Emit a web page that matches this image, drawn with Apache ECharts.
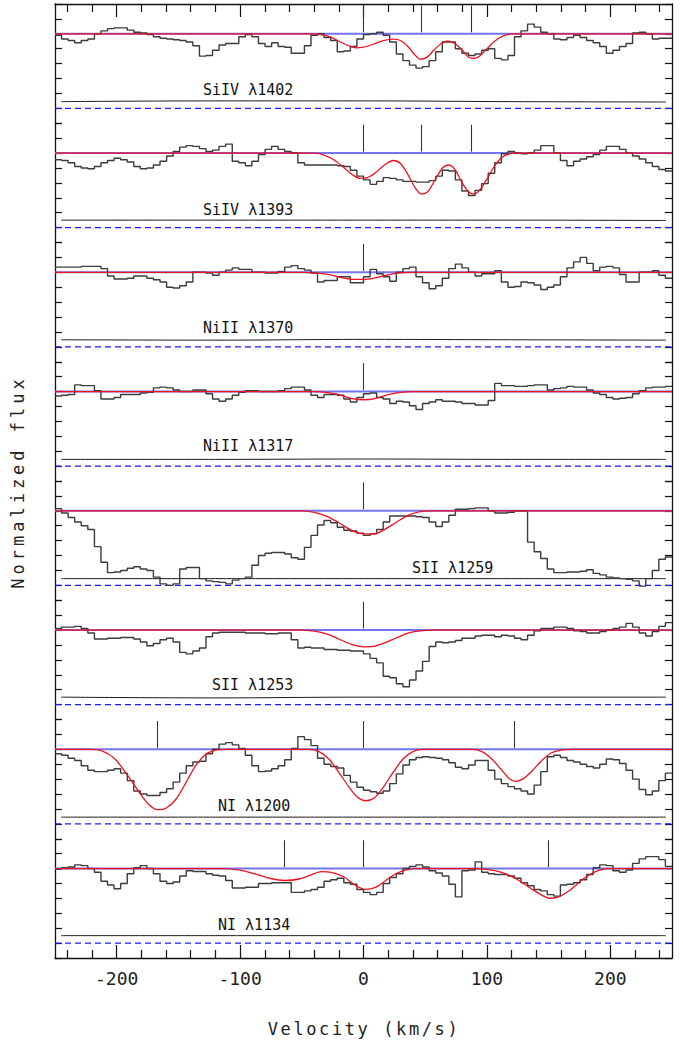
<!DOCTYPE html>
<html><head><meta charset="utf-8">
<script src="https://cdn.jsdelivr.net/npm/echarts@6/dist/echarts.min.js"></script>
<style>html,body{margin:0;padding:0;background:#fff}#c{width:683px;height:1044px}</style>
</head><body><div id="c"></div>
<script>
// ---------- data ----------
const VELOCITY = [-247.3,-242.0,-236.7,-231.4,-226.1,-220.7,-215.4,-210.1,-204.8,-199.5,-194.1,-188.8,-183.5,-178.2,-172.9,-167.6,-162.2,-156.9,-151.6,-146.3,-141.0,-135.6,-130.3,-125.0,-119.7,-114.4,-109.0,-103.7,-98.4,-93.1,-87.8,-82.4,-77.1,-71.8,-66.5,-61.2,-55.9,-50.5,-45.2,-39.9,-34.6,-29.3,-23.9,-18.6,-13.3,-8.0,-2.7,2.7,8.0,13.3,18.6,23.9,29.3,34.6,39.9,45.2,50.5,55.9,61.2,66.5,71.8,77.1,82.4,87.8,93.1,98.4,103.7,109.0,114.4,119.7,125.0,130.3,135.6,141.0,146.3,151.6,156.9,162.2,167.6,172.9,178.2,183.5,188.8,194.1,199.5,204.8,210.1,215.4,220.7,226.1,231.4,236.7,242.0,247.3];

const LINE_LABELS = ['SiIV λ1402','SiIV λ1393','NiII λ1370','NiII λ1317','SII λ1259','SII λ1253','NI λ1200','NI λ1134'];

const FLUX_SIIV_1402 = [0.98,0.93,0.91,0.88,0.91,0.93,1.0,1.04,1.07,1.08,
 1.08,1.05,1.02,1.01,0.99,0.96,0.94,0.93,0.92,0.91,
 0.89,0.84,0.70,0.71,0.78,0.85,0.87,0.87,0.96,0.99,
 0.96,0.87,0.83,0.88,0.83,0.82,0.74,0.74,0.84,0.98,
 1.0,0.95,0.91,0.76,0.77,0.83,0.93,0.99,1.0,1.02,
 0.98,0.89,0.73,0.64,0.58,0.54,0.56,0.64,0.76,0.89,
 0.89,0.80,0.74,0.71,0.73,0.78,0.80,0.67,0.65,0.71,
 0.96,1.04,1.13,1.09,1.02,1.0,0.93,0.92,0.95,0.98,
 0.95,0.91,0.88,0.83,0.74,0.78,0.83,0.87,1.01,1.02,
 1.0,0.93,0.94,0.94];
const FLUX_SIIV_1393 = [0.91,0.90,0.87,0.82,0.80,0.79,0.82,0.87,0.90,0.93,
 0.91,0.88,0.82,0.79,0.80,0.84,0.89,0.96,1.02,1.08,
 1.10,1.09,1.06,1.02,1.04,1.09,1.12,0.89,0.87,0.83,
 0.89,0.98,1.05,1.09,1.05,1.02,1.0,0.87,0.84,0.84,
 0.84,0.84,0.84,0.83,0.82,0.77,0.69,0.64,0.58,0.62,
 0.67,0.66,0.64,0.62,0.62,0.61,0.61,0.63,0.69,0.77,
 0.76,0.64,0.49,0.43,0.50,0.59,0.73,0.87,0.99,1.02,
 1.0,0.99,1.0,1.04,1.10,1.10,1.0,0.90,0.83,0.89,
 0.92,0.95,0.98,1.04,1.09,1.09,1.05,1.0,0.96,0.92,
 0.87,0.82,0.78,0.76];
const FLUX_NIII_1370 = [1.07,1.07,1.07,1.07,1.08,1.08,1.08,1.05,0.95,0.91,
 0.91,0.92,0.95,0.95,0.92,0.90,0.87,0.80,0.79,0.82,
 0.87,1.0,1.0,0.99,0.96,1.0,1.03,1.06,1.04,1.04,
 1.0,1.0,0.99,0.99,1.01,1.07,1.09,1.05,1.03,0.99,
 0.87,0.89,0.89,0.94,0.94,0.86,0.86,0.94,1.04,0.98,
 0.94,0.88,1.0,1.05,1.07,0.94,0.86,0.78,0.82,0.92,
 1.05,1.11,1.06,1.0,0.95,0.98,0.98,1.02,0.87,0.80,
 0.81,0.87,0.86,0.83,0.77,0.80,0.83,0.94,1.06,1.14,
 1.20,1.12,1.02,1.07,1.08,1.06,0.97,0.87,0.87,1.0,
 1.0,1.02,0.96,0.92];
const FLUX_NIII_1317 = [0.94,0.95,0.96,1.09,1.08,1.08,1.01,0.90,0.90,0.92,
 0.96,0.96,0.96,0.98,0.99,1.05,1.06,1.05,1.02,1.0,
 1.0,1.02,1.02,0.97,0.90,0.87,0.90,0.95,0.99,1.01,
 1.01,1.0,1.0,1.0,1.01,1.04,1.06,1.06,1.02,0.95,
 0.92,0.96,0.96,0.95,0.90,0.86,0.92,0.97,0.98,0.92,
 0.90,0.84,0.87,0.86,0.81,0.76,0.84,0.86,0.89,0.87,
 0.87,0.86,0.84,0.84,0.82,0.82,0.88,1.11,1.08,1.08,
 1.07,1.07,1.08,1.09,1.09,1.02,1.04,1.05,1.07,1.06,
 1.06,1.02,0.98,0.96,0.92,0.90,0.91,0.92,0.97,1.01,
 1.05,1.06,1.06,1.07];
const FLUX_SII_1259 = [1.03,0.97,0.91,0.85,0.80,0.75,0.52,0.31,0.17,0.18,
 0.20,0.23,0.25,0.22,0.20,0.11,0.02,0.0,0.02,0.22,
 0.24,0.24,0.09,0.06,0.05,0.04,0.02,0.07,0.09,0.11,
 0.27,0.40,0.43,0.44,0.44,0.42,0.37,0.35,0.51,0.67,
 0.81,0.87,0.84,0.78,0.74,0.73,0.70,0.67,0.69,0.75,
 0.85,0.93,0.93,0.93,0.93,0.92,0.91,0.85,0.79,0.85,
 0.94,1.02,1.02,1.03,1.04,1.04,1.0,0.97,0.97,0.98,
 1.0,1.0,0.58,0.45,0.36,0.22,0.17,0.17,0.18,0.18,
 0.19,0.21,0.16,0.14,0.11,0.10,0.09,0.08,0.06,-0.01,
 0.09,0.20,0.35,0.38];
const FLUX_SII_1253 = [1.02,1.04,1.04,1.05,1.02,0.96,0.88,0.88,0.89,0.89,
 0.90,0.90,0.88,0.84,0.79,0.82,0.87,0.89,0.84,0.70,
 0.68,0.72,0.76,0.91,0.96,0.97,0.97,0.97,0.97,0.96,
 0.96,0.96,0.95,0.95,0.96,0.96,0.87,0.76,0.77,0.76,
 0.76,0.74,0.74,0.73,0.73,0.72,0.72,0.68,0.62,0.56,
 0.38,0.36,0.28,0.24,0.33,0.45,0.58,0.78,0.84,0.83,
 0.84,0.86,0.89,0.89,0.92,0.93,0.93,0.91,0.93,0.92,
 0.89,0.87,0.93,0.99,1.02,1.02,1.04,1.04,1.02,0.99,
 0.98,0.96,0.96,0.98,1.0,1.02,1.04,1.09,1.04,0.96,
 0.92,0.98,1.05,1.10];
const FLUX_NI_1200 = [0.94,0.92,0.88,0.85,0.78,0.72,0.70,0.70,0.72,0.74,
 0.68,0.58,0.44,0.40,0.38,0.38,0.42,0.47,0.56,0.68,
 0.78,0.83,0.84,0.94,1.0,1.07,1.09,1.06,1.01,0.92,
 0.78,0.70,0.71,0.74,0.78,0.86,1.01,1.17,1.13,1.05,
 0.88,0.80,0.77,0.75,0.65,0.56,0.49,0.45,0.43,0.41,
 0.44,0.54,0.67,0.79,0.86,0.89,0.90,0.89,0.88,0.86,
 0.82,0.76,0.74,0.79,0.85,0.85,0.72,0.60,0.54,0.50,
 0.47,0.44,0.40,0.52,0.70,0.90,0.92,0.89,0.85,0.83,
 0.80,0.77,0.75,0.80,0.87,0.86,0.81,0.72,0.60,0.46,
 0.39,0.44,0.58,0.68];
const FLUX_NI_1134 = [0.99,1.01,1.02,1.05,1.04,1.0,0.95,0.83,0.78,0.73,
 0.80,0.93,1.01,1.04,1.0,0.93,0.83,0.80,0.82,0.90,
 0.97,0.96,0.96,0.93,0.91,0.90,0.84,0.74,0.74,0.75,
 0.75,0.80,0.80,0.81,0.81,0.81,0.68,0.68,0.70,0.72,
 0.75,0.83,0.85,0.87,0.81,0.79,0.72,0.68,0.65,0.68,
 0.80,0.88,0.93,1.0,1.03,1.05,1.02,0.97,0.94,0.90,
 0.79,0.62,0.97,0.98,1.09,0.95,0.93,0.92,0.92,0.90,
 0.87,0.81,0.77,0.72,0.70,0.65,0.63,0.78,0.79,0.81,
 0.85,0.92,1.01,1.05,1.04,0.97,0.95,0.98,1.07,1.13,
 1.16,1.16,1.12,1.03];

const MODEL_SIIV_1402 = [[-250,1],[-42,1],[-35,0.99],[-27,0.96],[-20,0.9],[-12,0.84],[-6,0.81],[0,0.82],[8,0.86],[16,0.91],[24,0.93],[30,0.91],[36,0.83],[41,0.73],[46,0.66],[51,0.68],[57,0.78],[63,0.87],[68,0.9],[74,0.87],[80,0.78],[85,0.69],[89,0.67],[94,0.7],[100,0.8],[107,0.91],[113,0.97],[120,1],[250,1]];
const MODEL_SIIV_1393 = [[-250,1],[-40,1],[-33,0.98],[-25,0.92],[-17,0.82],[-9,0.71],[-3,0.66],[3,0.67],[10,0.74],[17,0.84],[24,0.9],[30,0.86],[36,0.71],[42,0.53],[47,0.45],[52,0.48],[58,0.64],[64,0.8],[69,0.84],[74,0.78],[80,0.6],[85,0.48],[89,0.45],[94,0.5],[100,0.65],[106,0.82],[112,0.94],[118,0.99],[125,1],[250,1]];
const MODEL_NIII_1370 = [[-250,1],[-48,1],[-38,0.99],[-28,0.97],[-18,0.93],[-8,0.905],[0,0.905],[8,0.92],[18,0.96],[28,0.99],[38,1],[250,1]];
const MODEL_NIII_1317 = [[-250,1],[-40,1],[-30,0.99],[-20,0.96],[-10,0.91],[0,0.89],[10,0.91],[20,0.96],[30,0.99],[40,1],[250,1]];
const MODEL_SII_1259 = [[-250,1],[-50,1],[-40,0.98],[-30,0.93],[-20,0.84],[-10,0.74],[0,0.69],[8,0.69],[16,0.74],[26,0.84],[36,0.94],[46,0.99],[55,1],[250,1]];
const MODEL_SII_1253 = [[-250,1],[-50,1],[-40,0.985],[-30,0.95],[-20,0.88],[-10,0.81],[0,0.775],[8,0.78],[16,0.82],[26,0.89],[36,0.96],[46,0.99],[55,1],[250,1]];
const MODEL_NI_1200 = [[-250,1],[-222,1],[-212,0.98],[-202,0.88],[-192,0.67],[-182,0.43],[-174,0.26],[-167,0.19],[-160,0.21],[-152,0.33],[-144,0.55],[-136,0.78],[-128,0.93],[-120,0.99],[-112,1],[-44,1],[-36,0.97],[-28,0.87],[-20,0.69],[-12,0.5],[-5,0.36],[2,0.31],[9,0.35],[16,0.49],[24,0.69],[32,0.87],[40,0.97],[48,1],[88,1],[96,0.97],[104,0.87],[112,0.72],[118,0.61],[123,0.57],[129,0.6],[136,0.7],[144,0.84],[152,0.95],[160,0.99],[170,1],[250,1]];
const MODEL_NI_1134 = [[-250,1],[-115,1],[-100,0.98],[-88,0.93],[-76,0.87],[-64,0.84],[-52,0.86],[-42,0.92],[-34,0.96],[-26,0.95],[-16,0.89],[-8,0.79],[2,0.72],[10,0.75],[18,0.84],[26,0.93],[34,0.98],[42,1],[85,1],[100,0.99],[112,0.95],[124,0.86],[136,0.73],[146,0.63],[151,0.6],[158,0.62],[168,0.72],[178,0.86],[188,0.96],[198,1],[250,1]];

const ERROR_VELOCITY = [-245,-120,0,120,245];
const ERROR_SIIV_1402 = [0.09,0.10,0.10,0.09,0.085];
const ERROR_SIIV_1393 = [0.10,0.10,0.10,0.10,0.095];
const ERROR_NIII_1370 = [0.095,0.09,0.10,0.095,0.09];
const ERROR_NIII_1317 = [0.09,0.09,0.095,0.09,0.09];
const ERROR_SII_1259 = [0.09,0.09,0.09,0.09,0.09];
const ERROR_SII_1253 = [0.10,0.09,0.10,0.10,0.10];
const ERROR_NI_1200 = [0.09,0.09,0.09,0.09,0.09];
const ERROR_NI_1134 = [0.10,0.10,0.10,0.10,0.10];

const COMPONENTS_SIIV = [0, 47, 87];
const COMPONENTS_NIII = [0];
const COMPONENTS_SII = [0];
const COMPONENTS_NI_1200 = [-167, 0, 122];
const COMPONENTS_NI_1134 = [-64, 0, 150];

const CONTINUUM = [[-250, 1], [250, 1]];
const ZERO_LEVEL = [[-250, 0], [250, 0]];
const X_MAJOR_TICKS = [-200, -100, 0, 100, 200];
const X_MINOR_TICKS = [-240,-220,-180,-160,-140,-120,-80,-60,-40,-20,20,40,60,80,120,140,160,180,220,240];
const X_TICK_LABELS = ['-200','-100','0','100','200'];

const PANELS = [
  {flux: FLUX_SIIV_1402, model: MODEL_SIIV_1402, err: ERROR_SIIV_1402, comps: COMPONENTS_SIIV},
  {flux: FLUX_SIIV_1393, model: MODEL_SIIV_1393, err: ERROR_SIIV_1393, comps: COMPONENTS_SIIV},
  {flux: FLUX_NIII_1370, model: MODEL_NIII_1370, err: ERROR_NIII_1370, comps: COMPONENTS_NIII},
  {flux: FLUX_NIII_1317, model: MODEL_NIII_1317, err: ERROR_NIII_1317, comps: COMPONENTS_NIII},
  {flux: FLUX_SII_1259, model: MODEL_SII_1259, err: ERROR_SII_1259, comps: COMPONENTS_SII},
  {flux: FLUX_SII_1253, model: MODEL_SII_1253, err: ERROR_SII_1253, comps: COMPONENTS_SII},
  {flux: FLUX_NI_1200, model: MODEL_NI_1200, err: ERROR_NI_1200, comps: COMPONENTS_NI_1200},
  {flux: FLUX_NI_1134, model: MODEL_NI_1134, err: ERROR_NI_1134, comps: COMPONENTS_NI_1134}
];

// ---------- layout ----------
const FRAME_TOP = 4, PANEL_H = 119.25, FRAME_LEFT = 55, FRAME_W = 617;
const LABEL_POS = [[203,90],[203,209.5],[203,327.5],[203,446],[412,567.5],[212,685],[218,805.5],[218,925]];
const MONO = 'DejaVu Sans Mono';

const chart = echarts.init(document.getElementById('c'), null, {renderer: 'svg'});

const grids = [], xAxes = [], yAxes = [], series = [], graphics = [];
const AXIS_LINE = {show: true, onZero: false, lineStyle: {color: '#111', width: 1.3}};

PANELS.forEach((p, k) => {
  grids.push({left: FRAME_LEFT, width: FRAME_W, top: FRAME_TOP + k * PANEL_H, height: PANEL_H, outerBoundsMode: 'none', containLabel: false});
  const isTop = k === 0, isBottom = k === PANELS.length - 1;
  xAxes.push({
    gridIndex: k, type: 'value', min: -250, max: 250,
    position: isTop ? 'top' : 'bottom',
    show: isTop || isBottom,
    axisLine: AXIS_LINE,
    axisTick: {show: true, inside: true, length: 13, customValues: X_MAJOR_TICKS, lineStyle: {color: '#111', width: 1.2}},
    axisLabel: {show: isBottom, customValues: X_MAJOR_TICKS, fontFamily: MONO, fontSize: 18, color: '#222', margin: 11,
      formatter: v => X_TICK_LABELS[X_MAJOR_TICKS.indexOf(v)] ?? String(v)},
    splitLine: {show: false}
  });
  ['left', 'right'].forEach(pos => {
    yAxes.push({
      gridIndex: k, type: 'value', min: -0.2, max: 1.4, interval: 0.2, position: pos,
      axisLine: AXIS_LINE,
      axisTick: {show: true, inside: true, length: 7, lineStyle: {color: '#111', width: 1.2}},
      axisLabel: {show: false}, splitLine: {show: false}
    });
  });
});
// minor x ticks (top of first panel, bottom of last panel)
[[0, 'top'], [PANELS.length - 1, 'bottom']].forEach(([g, pos]) => {
  xAxes.push({
    gridIndex: g, type: 'value', min: -250, max: 250, position: pos,
    axisLine: {show: false, onZero: false},
    axisTick: {show: true, inside: true, length: 8, customValues: X_MINOR_TICKS, lineStyle: {color: '#111', width: 1.2}},
    axisLabel: {show: false}, splitLine: {show: false}
  });
});

PANELS.forEach((p, k) => {
  const common = {xAxisIndex: k, yAxisIndex: 2 * k, symbol: 'none', silent: true, animation: false};
  series.push(Object.assign({type: 'line', data: CONTINUUM, lineStyle: {color: '#7474f2', width: 2}, z: 2}, common));
  series.push(Object.assign({type: 'line', data: ZERO_LEVEL, lineStyle: {color: '#1c1cff', width: 1.3, type: [6, 4]}, z: 2}, common));
  series.push(Object.assign({type: 'line', data: ERROR_VELOCITY.map((v, i) => [v, p.err[i]]), smooth: 0.4, lineStyle: {color: '#1a1a1a', width: 1}, z: 2}, common));
  const hist = [[-250, p.flux[0]]].concat(VELOCITY.map((v, i) => [v, p.flux[i]]), [[250, p.flux[p.flux.length - 1]]]);
  series.push(Object.assign({type: 'line', step: 'middle', data: hist, lineStyle: {color: '#3c3c3c', width: 1.4}, z: 3,
    markLine: {silent: true, symbol: ['none', 'none'], animation: false, label: {show: false},
      lineStyle: {color: '#333', width: 1.1, type: 'solid'},
      data: p.comps.map(v => [{coord: [v, 1.02]}, {coord: [v, 1.38]}])}}, common));
  series.push(Object.assign({type: 'line', data: p.model, smooth: 0.3, lineStyle: {color: '#f01020', width: 1.3}, z: 4}, common));
  graphics.push({type: 'text', x: LABEL_POS[k][0], y: LABEL_POS[k][1], silent: true,
    style: {text: LINE_LABELS[k], fontFamily: MONO, fontSize: 15, fill: '#111', align: 'left', verticalAlign: 'middle'}});
});

graphics.push({type: 'text', x: 364, y: 1029, silent: true,
  style: {text: 'Velocity (km/s)', fontFamily: MONO, fontSize: 17, fill: '#222', align: 'center', verticalAlign: 'middle'}});
graphics.push({type: 'text', x: 17.5, y: 482, rotation: Math.PI / 2, silent: true,
  style: {text: 'Normalized flux', fontFamily: MONO, fontSize: 17, fill: '#222', align: 'center', verticalAlign: 'middle'}});

chart.setOption({
  animation: false,
  backgroundColor: '#fff',
  grid: grids, xAxis: xAxes, yAxis: yAxes, series: series, graphic: graphics
});

function spaceTitles() {
  document.querySelectorAll('#c text').forEach(t => {
    const s = t.textContent;
    if (s === 'Velocity (km/s)') t.setAttribute('letter-spacing', '2.6');
    else if (s === 'Normalized flux') t.setAttribute('letter-spacing', '4');
  });
}
spaceTitles();
chart.on('finished', spaceTitles);
</script></body></html>
